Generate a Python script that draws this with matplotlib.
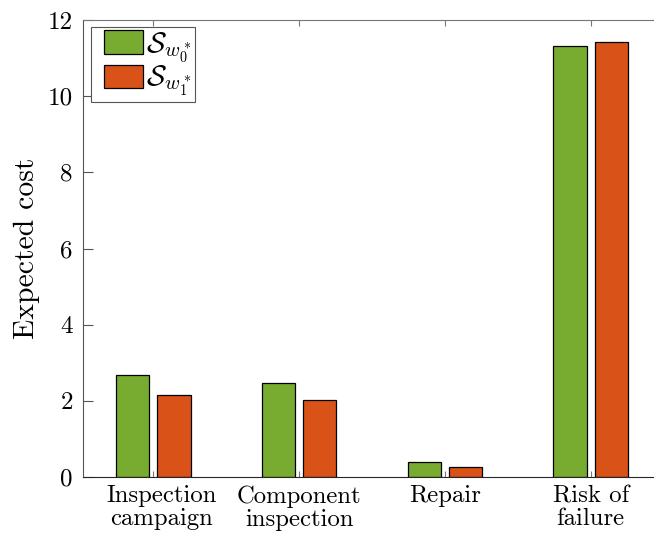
import matplotlib
matplotlib.use("Agg")
import matplotlib.pyplot as plt
import matplotlib.transforms as mtransforms
from matplotlib.legend_handler import HandlerPatch, update_from_first_child
from matplotlib.container import BarContainer
from matplotlib.patches import Rectangle
import numpy as np

plt.rcParams['font.family'] = ['cmr10']
plt.rcParams['mathtext.fontset'] = 'cm'
plt.rcParams['axes.unicode_minus'] = False

categories = ["Inspection\ncampaign", "Component\ninspection", "Repair", "Risk of\nfailure"]
cost_w0 = [2.68, 2.46, 0.40, 11.32]
cost_w1 = [2.16, 2.01, 0.27, 11.42]
series_labels = [r"$\mathcal{S}_{w_0^*}$", r"$\mathcal{S}_{w_1^*}$"]
colors = ["#77AC30", "#D95319"]
yticks = [0, 2, 4, 6, 8, 10, 12]

W, H = 654, 535
fig = plt.figure(figsize=(W / 100, H / 100), dpi=100)
left, right, top, bottom = 82.7, 663.6, 20, 477
ax = fig.add_axes([left / W, 1 - bottom / H, (right - left) / W, (bottom - top) / H])

x = np.arange(1, len(categories) + 1)
bw = 0.227
off = 0.142
for vals, lab, c, sgn in zip([cost_w0, cost_w1], series_labels, colors, [-1, 1]):
    ax.bar(x + sgn * off, vals, width=bw, color=c, edgecolor="black",
           linewidth=0.9, label=lab, zorder=2)

ax.set_xlim(0.516, 4.5)
ax.set_ylim(0, 12)
ax.set_yticks(yticks)
ax.set_yticklabels([str(v) for v in yticks], fontsize=18)
ax.set_xticks(x)
ax.set_xticklabels(categories, fontsize=17.8, linespacing=1.05)
ax.set_ylabel("Expected cost", fontsize=21.4, labelpad=6)

for s in ["left", "bottom", "top", "right"]:
    ax.spines[s].set_color("#262626")
    ax.spines[s].set_linewidth(0.8)
ax.spines["left"].set_color("#555555")
ax.spines["top"].set_color("#777777")
ax.tick_params(axis="y", direction="in", length=7, width=0.8, color="#555555",
               pad=7, right=True)
ax.tick_params(axis="x", direction="in", length=4, width=0.8, color="#777777",
               pad=6, top=True)

# first category label sits slightly right of its tick
first = ax.xaxis.get_major_ticks()[0].label1
first.set_transform(first.get_transform() +
                    mtransforms.ScaledTranslation(8 / 100, 0, fig.dpi_scale_trans))


def inset_patch(legend, orig_handle, xdescent, ydescent, width, height, fontsize):
    inset = 7
    return Rectangle((-xdescent + inset, -ydescent), width - inset, height)


fs = 21
fpx = fs * 100 / 72
leg = ax.legend(loc="upper left", bbox_to_anchor=(8.5 / (right - left), 1 - 7 / (bottom - top)),
                fontsize=fs, handlelength=48 / fpx, handleheight=24.5 / fpx, handletextpad=0.1,
                labelspacing=0.0, borderpad=0.12, borderaxespad=0, fancybox=False,
                framealpha=1, edgecolor="#555555",
                handler_map={BarContainer: HandlerPatch(patch_func=inset_patch,
                                                        update_func=update_from_first_child)})
leg.get_frame().set_linewidth(0.8)

fig.savefig("out.png", dpi=100)
